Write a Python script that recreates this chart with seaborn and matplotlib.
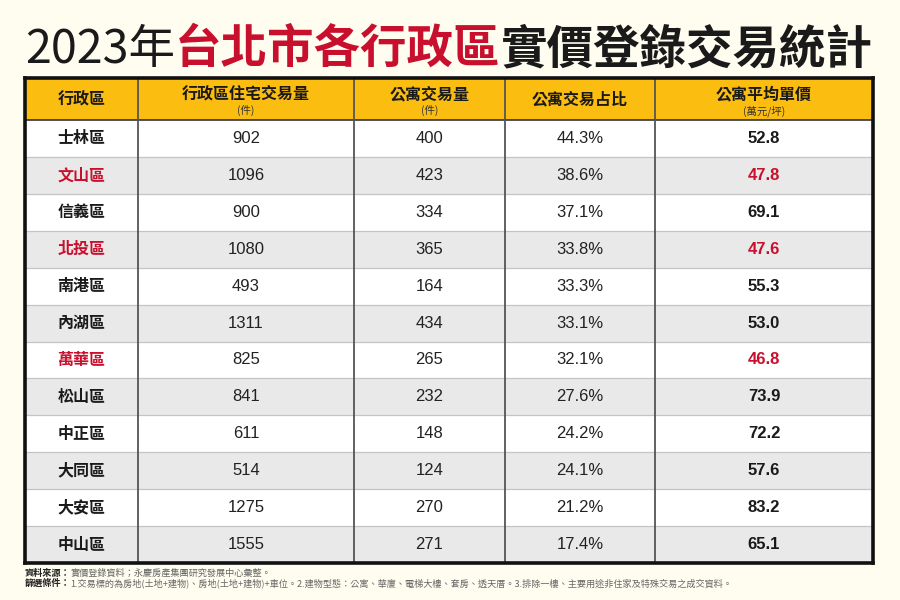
import numpy as np
import matplotlib
matplotlib.use("Agg")
import matplotlib.pyplot as plt
import seaborn as sns
from matplotlib.colors import ListedColormap

# Table data
districts = ["士林區", "文山區", "信義區", "北投區", "南港區", "內湖區",
             "萬華區", "松山區", "中正區", "大同區", "大安區", "中山區"]
total_deals = [902, 1096, 900, 1080, 493, 1311, 825, 841, 611, 514, 1275, 1555]
apt_deals = [400, 423, 334, 365, 164, 434, 265, 232, 148, 124, 270, 271]
apt_share = [44.3, 38.6, 37.1, 33.8, 33.3, 33.1, 32.1, 27.6, 24.2, 24.1, 21.2, 17.4]
apt_price = [52.8, 47.8, 69.1, 47.6, 55.3, 53.0, 46.8, 73.9, 72.2, 57.6, 83.2, 65.1]
highlight = ["文山區", "北投區", "萬華區"]

headers = ["行政區", "行政區住宅交易量", "公寓交易量", "公寓交易占比", "公寓平均單價"]
subheaders = ["", "(件)", "(件)", "", "(萬元/坪)"]

BG = "#fffdf0"
RED = "#c8102e"
CJK = ["Noto Sans CJK TC", "DejaVu Sans"]
NUM = ["Liberation Sans", "Noto Sans CJK TC"]

# column widths / row heights in pixels -> piecewise linear scales
col_px = np.cumsum([0, 113, 216, 151, 150, 218])
row_px = np.cumsum([0, 42] + [36.9] * 12)


def make_scale(px):
    idx = np.arange(len(px), dtype=float)
    slope0 = px[1] - px[0]
    slope1 = px[-1] - px[-2]

    def fwd(v):
        v = np.asarray(v, dtype=float)
        out = np.interp(v, idx, px)
        out = np.where(v < 0, px[0] + v * slope0, out)
        out = np.where(v > idx[-1], px[-1] + (v - idx[-1]) * slope1, out)
        return out

    def inv(p):
        p = np.asarray(p, dtype=float)
        out = np.interp(p, px, idx)
        out = np.where(p < px[0], (p - px[0]) / slope0, out)
        out = np.where(p > px[-1], idx[-1] + (p - px[-1]) / slope1, out)
        return out

    return fwd, inv


# fill codes: 2 header, 0 white, 1 grey
fill = np.array([[2] * 5] + [[i % 2] * 5 for i in range(len(districts))])

fig = plt.figure(figsize=(9, 6), dpi=100, facecolor=BG)
ax = fig.add_axes([25 / 900, 1 - 563 / 600, 848 / 900, 485 / 600])
sns.heatmap(fill, cmap=ListedColormap(["#ffffff", "#e9e9e9", "#fbbd0f"]),
            vmin=-0.5, vmax=2.5, cbar=False, ax=ax, linewidths=0,
            xticklabels=False, yticklabels=False)
ax.set_xscale("function", functions=make_scale(col_px))
ax.set_yscale("function", functions=make_scale(row_px))
ax.set_xlim(0, 5)
ax.set_ylim(len(fill), 0)
ax.set_xticks([])
ax.set_yticks([])
ax.set_xticks([], minor=True)
ax.set_yticks([], minor=True)

# grid lines
for i in range(2, len(fill)):
    ax.axhline(i, color="#c4c4c4", lw=0.9)
ax.axhline(1, color="#333333", lw=1.2)
for j in range(1, 5):
    ax.axvline(j, color="#555555", lw=1.3)
for s in ax.spines.values():
    s.set_visible(True)
    s.set_color("#111111")
    s.set_linewidth(2.6)

# header
for j, (h, sub) in enumerate(zip(headers, subheaders)):
    if sub:
        ax.text(j + 0.5, 0.38, h, ha="center", va="center", fontsize=11.5,
                fontweight="heavy", family=CJK, color="#1a1a1a")
        ax.text(j + 0.5, 0.78, sub, ha="center", va="center", fontsize=7.5,
                family=CJK, color="#333333")
    else:
        ax.text(j + 0.5, 0.5, h, ha="center", va="center", fontsize=11.5,
                fontweight="heavy", family=CJK, color="#1a1a1a")

# body
for i, name in enumerate(districts):
    y = i + 1.5
    c = RED if name in highlight else "#1a1a1a"
    ax.text(0.5, y, name, ha="center", va="center", fontsize=11.5,
            fontweight="heavy", family=CJK, color=c)
    ax.text(1.5, y, f"{total_deals[i]}", ha="center", va="center",
            fontsize=12, family=NUM, color="#222222")
    ax.text(2.5, y, f"{apt_deals[i]}", ha="center", va="center",
            fontsize=12, family=NUM, color="#222222")
    ax.text(3.5, y, f"{apt_share[i]:.1f}%", ha="center", va="center",
            fontsize=12, family=NUM, color="#222222")
    ax.text(4.5, y, f"{apt_price[i]:.1f}", ha="center", va="center",
            fontsize=12, fontweight="bold", family=NUM, color=c)

# title built from pieces
renderer = fig.canvas.get_renderer()
title_parts = [("2023年", "#1a1a1a", "light"),
               ("台北市各行政區", RED, "heavy"),
               ("實價登錄交易統計", "#1a1a1a", "heavy")]
x = 25 / 900
for txt, col, wt in title_parts:
    t = fig.text(x, 1 - 63 / 600, txt, fontsize=33.5, color=col, fontweight=wt,
                 family=CJK, va="baseline", ha="left")
    bb = t.get_window_extent(renderer)
    x += bb.width / fig.bbox.width

# footnotes
notes = [("資料來源：", "實價登錄資料；永慶房產集團研究發展中心彙整。"),
         ("篩選條件：", "1.交易標的為房地(土地+建物)、房地(土地+建物)+車位。2.建物型態：公寓、華廈、電梯大樓、套房、透天厝。3.排除一樓、主要用途非住家及特殊交易之成交資料。")]
for k, (lab, body) in enumerate(notes):
    yy = 1 - (573 + k * 10.5) / 600
    t = fig.text(25 / 900, yy, lab, fontsize=6.6, fontweight="bold",
                 family=CJK, color="#222222", va="center")
    bb = t.get_window_extent(renderer)
    fig.text(25 / 900 + bb.width / fig.bbox.width, yy, body, fontsize=6.6,
             family=CJK, color="#666666", va="center")

fig.savefig("out.png", dpi=100, facecolor=BG)
